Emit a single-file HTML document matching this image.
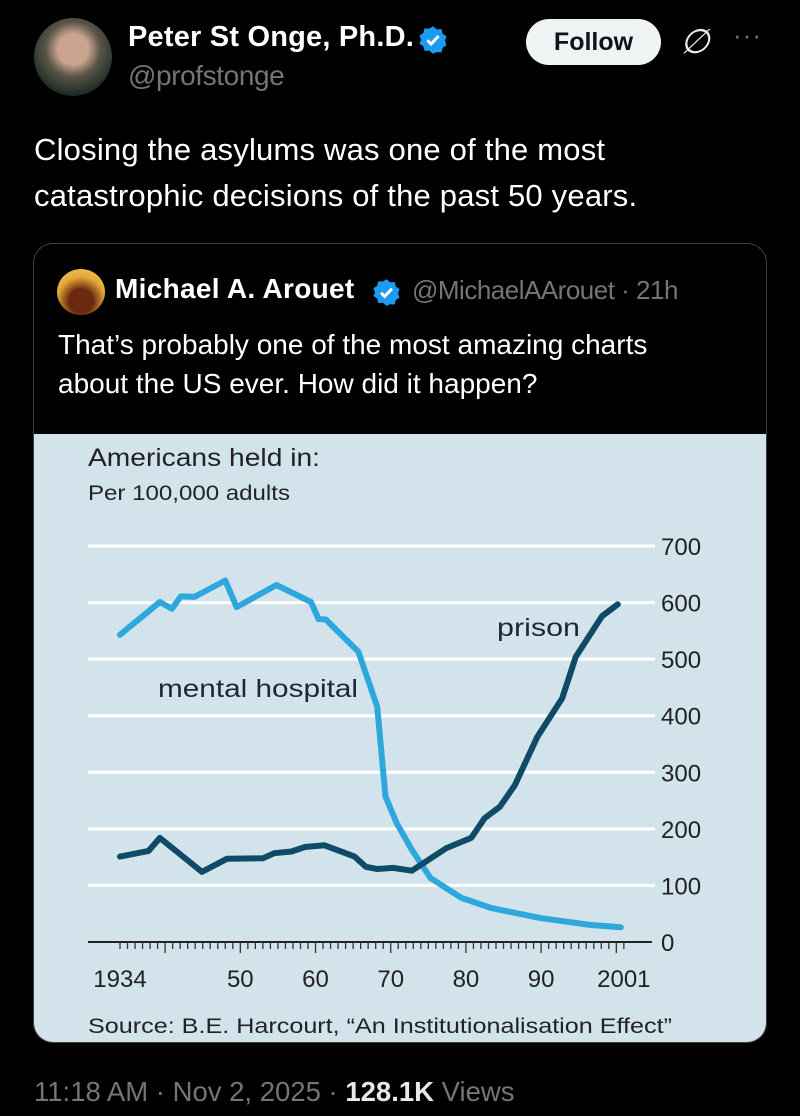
<!DOCTYPE html>
<html><head><meta charset="utf-8"><style>
*{margin:0;padding:0;box-sizing:border-box}
body{width:800px;height:1116px;background:#000;position:relative;overflow:hidden;font-family:"Liberation Sans",sans-serif;color:#e7e9ea}
.abs{position:absolute}
</style></head><body>
<div class="abs" style="left:34px;top:18px;width:78px;height:78px;border-radius:50%;background:radial-gradient(circle at 50% 40%,#c9a48f 0 25%,#5a5548 45%,#1d2b26 75%,#0d1512 100%)"></div>
<div class="abs" style="left:128px;top:21px;font-size:29px;font-weight:bold;color:#fff;letter-spacing:0.2px;white-space:nowrap">Peter St Onge, Ph.D.</div>
<svg class="abs" style="left:418px;top:25px" width="30" height="30" viewBox="0 0 24 24"><path d="M12 1l3 2.5 3.8-.2.9 3.7 3.2 2.1-1.4 3.5 1.4 3.5-3.2 2.1-.9 3.7-3.8-.2L12 23l-3-2.5-3.8.2-.9-3.7-3.2-2.1L2.5 12 1.1 8.5l3.2-2.1.9-3.7 3.8.2z" fill="#1d9bf0"/><path d="M7.5 12.2l3 3 6-6.4" stroke="#fff" stroke-width="2.4" fill="none"/></svg>
<div class="abs" style="left:128px;top:60px;font-size:28px;color:#71767b;letter-spacing:-0.4px">@profstonge</div>
<div class="abs" style="left:526px;top:19px;width:135px;height:46px;border-radius:23px;background:#eff3f4;color:#0f1419;font-weight:bold;font-size:25px;text-align:center;line-height:46px">Follow</div>
<div class="abs" style="left:680px;top:22px;font-size:34px;color:#e7e9ea;font-style:italic">∅</div>
<div class="abs" style="left:733px;top:20px;font-size:26px;color:#71767b;letter-spacing:1px">···</div>
<div class="abs" style="left:34px;top:127px;font-size:31px;line-height:46px;color:#fff;width:650px;letter-spacing:0.2px">Closing the asylums was one of the most catastrophic decisions of the past 50 years.</div>

<div class="abs" style="left:33px;top:243px;width:734px;height:800px;border:1px solid #3a3f44;border-radius:20px;overflow:hidden">
 <div class="abs" style="left:23px;top:25px;width:48px;height:46px;border-radius:50%;background:radial-gradient(circle at 50% 70%,#6b2a10 0 30%,#e2a637 60%,#f5d36a 100%)"></div>
 <div class="abs" style="left:81px;top:29px;font-size:28px;font-weight:bold;color:#fff;letter-spacing:0.3px;white-space:nowrap">Michael A. Arouet</div>
 <svg class="abs" style="left:338px;top:34px" width="29" height="29" viewBox="0 0 24 24"><path d="M12 1l3 2.5 3.8-.2.9 3.7 3.2 2.1-1.4 3.5 1.4 3.5-3.2 2.1-.9 3.7-3.8-.2L12 23l-3-2.5-3.8.2-.9-3.7-3.2-2.1L2.5 12 1.1 8.5l3.2-2.1.9-3.7 3.8.2z" fill="#1d9bf0"/><path d="M7.5 12.2l3 3 6-6.4" stroke="#fff" stroke-width="2.4" fill="none"/></svg>
 <div class="abs" style="left:378px;top:31px;font-size:26px;color:#71767b;letter-spacing:-0.5px;white-space:nowrap">@MichaelAArouet · 21h</div>
 <div class="abs" style="left:24px;top:81px;font-size:28px;line-height:39px;color:#fff;width:640px;letter-spacing:0px">That’s probably one of the most amazing charts about the US ever. How did it happen?</div>
 <div class="abs" style="left:0;top:190px;width:734px;height:610px;background:#d3e3ec"></div>
</div>

<svg class="abs" id="chart" style="left:0;top:0" width="800" height="1116" font-family="'Liberation Sans',sans-serif">
 <text x="88" y="466" font-size="25" fill="#222" textLength="232" lengthAdjust="spacingAndGlyphs">Americans held in:</text>
 <text x="88" y="500" font-size="21" fill="#222" textLength="202" lengthAdjust="spacingAndGlyphs">Per 100,000 adults</text>
 <g id="grid"></g><g id="ticks"></g><g id="lines"></g>
 <text x="158" y="697" font-size="25" fill="#1a2a33" textLength="200" lengthAdjust="spacingAndGlyphs">mental hospital</text>
 <text x="497" y="636" font-size="25" fill="#1a2a33" textLength="83" lengthAdjust="spacingAndGlyphs">prison</text>
 <text x="88" y="1033" font-size="21" fill="#222" textLength="584" lengthAdjust="spacingAndGlyphs">Source: B.E. Harcourt, “An Institutionalisation Effect”</text>
</svg>

<div class="abs" style="left:34px;top:1076px;font-size:27.5px;color:#71767b;white-space:nowrap">11:18 AM · Nov 2, 2025 · <b style="color:#e7e9ea">128.1K</b> Views</div>

<script>
const yTicks=[0,100,200,300,400,500,600,700];
const xLabelYears=[1934,1950,1960,1970,1980,1990,2001];
const xLabels=["1934","50","60","70","80","90","2001"];
const mentalYears=[1934,1939.3,1940.9,1942.1,1943.9,1948,1949.5,1954.8,1959.4,1960.4,1961.4,1965.7,1968.2,1969.3,1970.8,1972.8,1975.3,1979.4,1983.4,1990,1996.6,2000.6];
const mentalValues=[543,601,589,611,610,639,592,631,601,571,570,513,416,257,210,163,113,78,60,42,30,26];
const prisonYears=[1934,1937.8,1939.3,1944.9,1948.2,1953,1954.5,1956.8,1958.6,1961.2,1965.2,1966.7,1968.2,1970.3,1972.8,1977.4,1980.7,1982.5,1984.5,1986.5,1989.5,1992.8,1994.6,1998.1,2000.2];
const prisonValues=[151,161,184,124,147,148,157,160,168,171,151,133,129,131,126,166,184,219,239,277,363,431,504,576,597];
const NS="http://www.w3.org/2000/svg";
const X=y=>120+(y-1934)*7.52;
const Y=v=>942-v*0.5657;
function mk(tag,attrs,parent){const e=document.createElementNS(NS,tag);for(const k in attrs)e.setAttribute(k,attrs[k]);parent.appendChild(e);return e;}
const grid=document.getElementById('grid'),ticks=document.getElementById('ticks'),lines=document.getElementById('lines');
yTicks.forEach(v=>{
 const l=mk('line',{x1:88,x2:v===0?652:655,y1:Y(v),y2:Y(v),stroke:v===0?'#222':'#fff','stroke-width':v===0?2:3},grid);
 
 
 const t=mk('text',{x:661,y:Y(v)+9,'font-size':24,fill:'#222'},grid);
 t.textContent=String(v);
 
 
});
for(let yr=1934;yr<=2001;yr++){
 const major=yr%10===0;
 const m=mk('line',{x1:X(yr),x2:X(yr),y1:Y(0),y2:Y(0)+(major?11:7),stroke:'#333','stroke-width':1.3},ticks);
 
 
}
xLabelYears.forEach((yr,i)=>{
 const t=mk('text',{x:X(yr),y:987,'font-size':24,fill:'#222','text-anchor':'middle'},ticks);
 t.textContent=xLabels[i];
 
 
});
function path(xs,vs){return xs.map((x,i)=>(i?'L':'M')+X(x).toFixed(1)+' '+Y(vs[i]).toFixed(1)).join(' ');}
const mp=mk('path',{d:path(mentalYears,mentalValues),fill:'none',stroke:'#2ea7dc','stroke-width':6,'stroke-linejoin':'round','stroke-linecap':'round'},lines);


const pp=mk('path',{d:path(prisonYears,prisonValues),fill:'none',stroke:'#0f4a66','stroke-width':6,'stroke-linejoin':'round','stroke-linecap':'round'},lines);


</script>
</body></html>
